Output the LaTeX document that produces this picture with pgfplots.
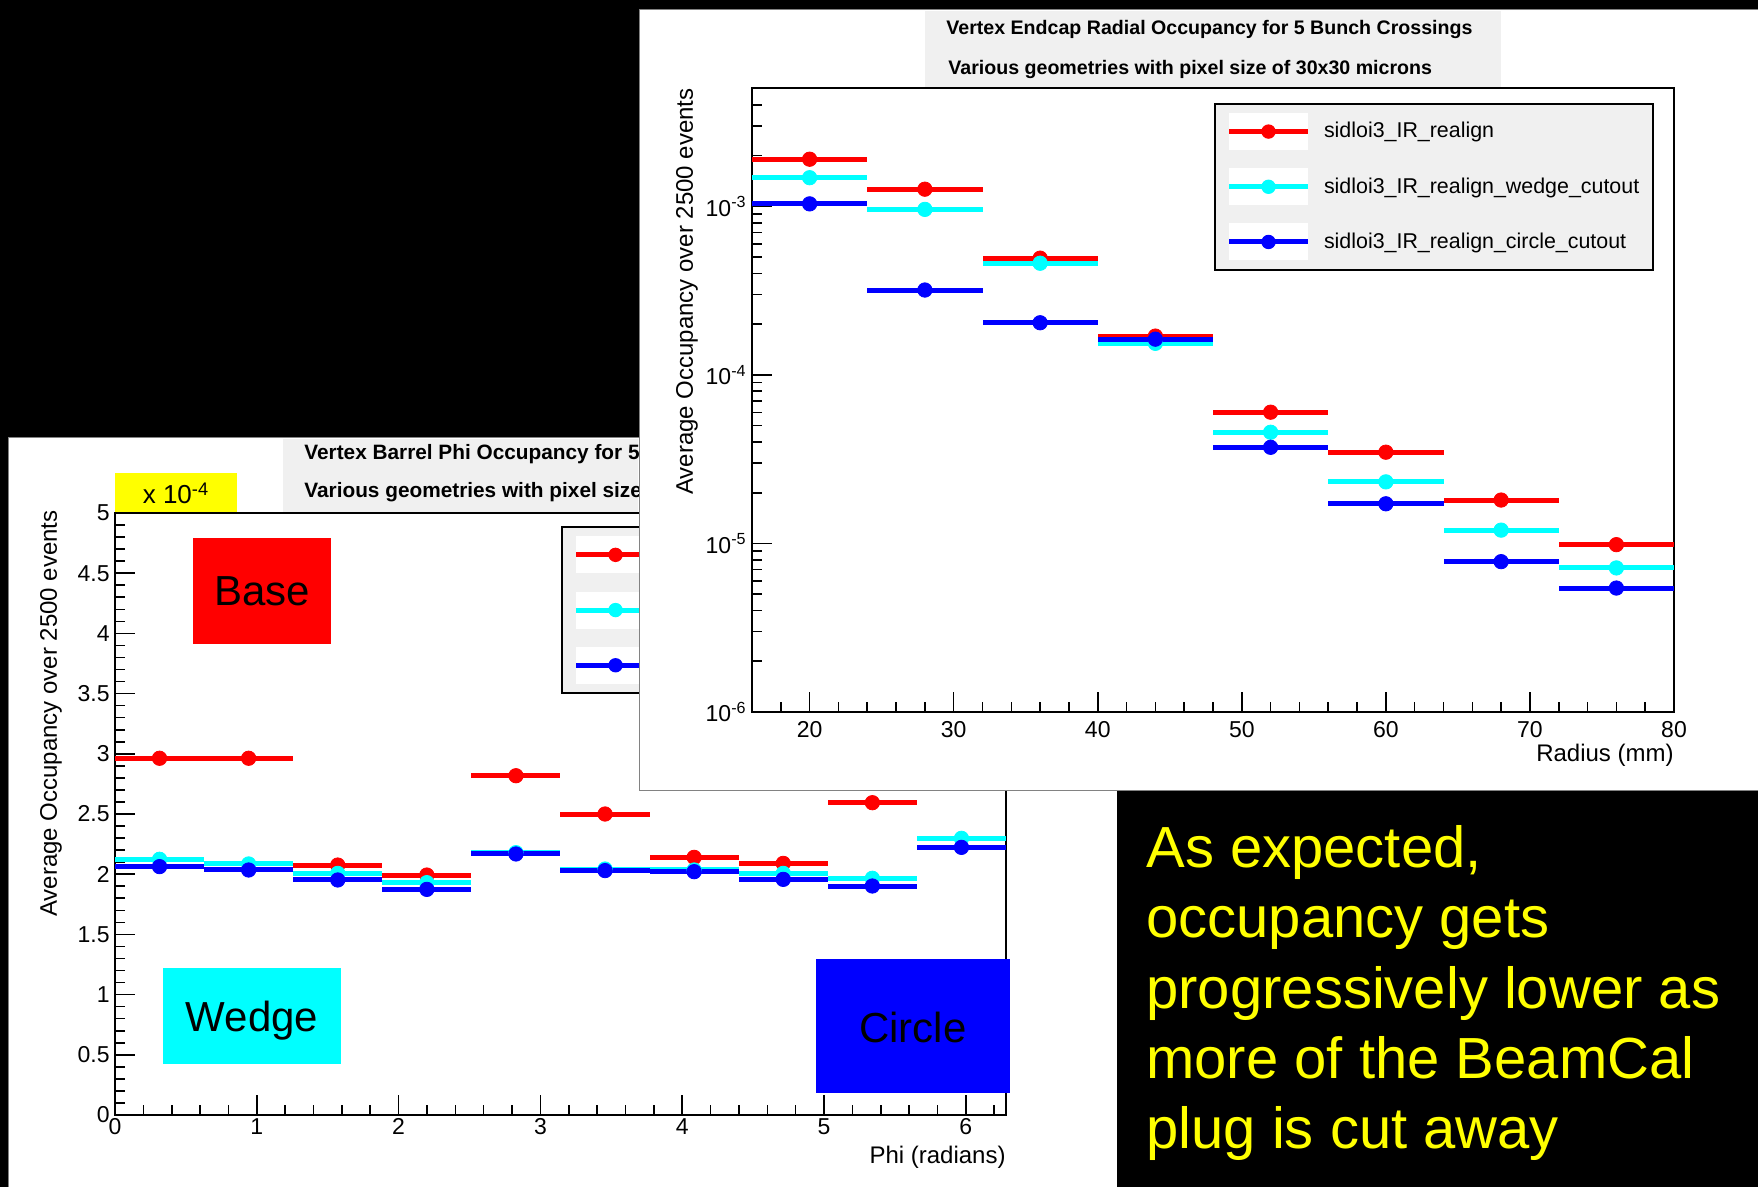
\documentclass[border=0pt]{standalone}
\usepackage{pgfplots}
\pgfplotsset{compat=1.18}
\usepackage{fontspec}
\setmainfont{Liberation Sans}
\definecolor{rootgray}{RGB}{240,240,240}
\definecolor{framegray}{RGB}{130,130,130}
\definecolor{rred}{RGB}{255,0,0}
\definecolor{rcyan}{RGB}{0,255,255}
\definecolor{rblue}{RGB}{0,0,255}
\definecolor{ryellow}{RGB}{255,255,0}
\newcommand\titlefont{\fontsize{9.8}{11}\selectfont\bfseries}
\newcommand\btitlefont{\fontsize{10.4}{11}\selectfont\bfseries}
\newcommand\labfont{\fontsize{12}{13}\selectfont}
\pgfplotsset{
  rootaxis/.style={
    scale only axis,
    anchor=south west,
    axis line style={line width=0.8pt, black},
    tick align=inside,
    xtick pos=bottom, ytick pos=left,
    major tick length=10pt, minor tick length=5pt,
    tick style={line width=0.8pt, black},
    /pgf/number format/assume math mode=true,
    tick label style={font=\fontsize{11.5}{12}\selectfont},
    xlabel style={font=\labfont, inner sep=0pt, anchor=east},
    ylabel style={font=\labfont, inner sep=0pt, anchor=east, rotate=0},
  },
  rootlegend/.style={
    legend style={draw=black, line width=1pt, fill=rootgray, inner sep=0pt,
      row sep=0pt, column sep=0pt, nodes={inner sep=0pt, draw=none},
      font=\fontsize{10.7}{12}\selectfont},
    legend cell align=left,
    legend image code/.code={%
      \path[draw=none, fill=none] (-7pt,-13.8pt) rectangle (47.5pt,13.8pt);
      \fill[white, draw=none] (0pt,-9.25pt) rectangle (39.5pt,9.25pt);
      \draw[##1, line width=2.5pt] (0pt,0pt) -- (39.5pt,0pt);
      \fill[##1, draw=none] (19.75pt,0pt) circle (3.6pt);
    },
  },
  rootdata/.style 2 args={forget plot, only marks, mark=*, mark size=3.6pt, color=#1,
    error bars/.cd, x dir=both, x fixed=#2, error mark=none,
    error bar style={line width=2.5pt, color=#1}},
}
\begin{document}
\begin{tikzpicture}
\clip (0pt,0pt) rectangle (879pt,-593.5pt);
\fill[black] (0pt,0pt) rectangle (879pt,-593.5pt);
% ---------------- barrel panel ----------------
\begin{scope}[x=0.5pt,y=-0.5pt]
  \filldraw[fill=white, draw=framegray, line width=0.5pt] (8,438) rectangle (1780,1200);
  \begin{scope}
    \clip (0,0) rectangle (638,1200);
    \fill[rootgray] (283,438.6) rectangle (859,512);
    \node[anchor=base west, inner sep=0pt, font=\btitlefont] at (304,460) {Vertex Barrel Phi Occupancy for 5};
    \node[anchor=base west, inner sep=0pt, font=\btitlefont] at (304,498) {Various geometries with pixel size};
  \end{scope}
\end{scope}
\begin{axis}[rootaxis, rootlegend,
  at={(57.5pt,-557.5pt)}, width=445.5pt, height=301pt,
  xmin=0, xmax=6.283185, ymin=0, ymax=5,
  xtick={0,1,2,3,4,5,6},
  minor xtick={0.2,0.4,0.6,0.8,1.2,1.4,1.6,1.8,2.2,2.4,2.6,2.8,3.2,3.4,3.6,3.8,4.2,4.4,4.6,4.8,5.2,5.4,5.6,5.8,6.2},
  ytick={0,0.5,1,1.5,2,2.5,3,3.5,4,4.5,5},
  minor y tick num=4,
  xticklabel style={inner sep=0pt, yshift=-1.5pt},
  yticklabel style={inner sep=0pt, xshift=-2.5pt},
  xlabel={Phi (radians)},
  xlabel style={at={(rel axis cs:1,-0.0698)}},
  ylabel={Average Occupancy over 2500 events},
  ylabel style={at={(rel axis cs:-0.0718,1.005)}, rotate=0},
  legend style={at={(axis description cs:0.5006,0.978)}, anchor=north west},
]
\addplot[rootdata={rred}{0.3141593}] coordinates {
  (0.31416,2.963) (0.94248,2.963) (1.57080,2.076) (2.19911,1.993) (2.82743,2.818)
  (3.45575,2.500) (4.08407,2.140) (4.71239,2.090) (5.34071,2.594)};
\addplot[rootdata={rcyan}{0.3141593}] coordinates {
  (0.31416,2.124) (0.94248,2.085) (1.57080,2.007) (2.19911,1.930) (2.82743,2.179)
  (3.45575,2.043) (4.08407,2.035) (4.71239,2.007) (5.34071,1.966) (5.96903,2.298)};
\addplot[rootdata={rblue}{0.3141593}] coordinates {
  (0.31416,2.063) (0.94248,2.035) (1.57080,1.952) (2.19911,1.874) (2.82743,2.168)
  (3.45575,2.030) (4.08407,2.021) (4.71239,1.957) (5.34071,1.902) (5.96903,2.223)};
\addlegendimage{rred}\addlegendentry{\makebox[164.5pt][l]{}}
\addlegendimage{rcyan}\addlegendentry{\makebox[164.5pt][l]{}}
\addlegendimage{rblue}\addlegendentry{\makebox[164.5pt][l]{}}
\end{axis}
\begin{scope}[x=0.5pt,y=-0.5pt]
  \fill[ryellow] (115,473) rectangle (237,512);
  \node[anchor=base, inner sep=0pt, font=\fontsize{13}{14}\selectfont] at (176,504) {x 10\textsuperscript{-4}};
  \fill[rred] (193,538) rectangle (331,644);
  \node[anchor=base, inner sep=0pt, font=\fontsize{21}{22}\selectfont] at (262,606) {Base};
  \fill[rcyan] (163,968) rectangle (341,1064);
  \node[anchor=base, inner sep=0pt, font=\fontsize{21}{22}\selectfont] at (252,1031.5) {Wedge};
  \fill[rblue] (816,959) rectangle (1010,1093);
  \node[anchor=base, inner sep=0pt, font=\fontsize{21}{22}\selectfont] at (913,1042) {Circle};
  % ---------------- endcap panel ----------------
  \filldraw[fill=white, draw=framegray, line width=0.5pt] (639,10) rectangle (1780,790);
  \fill[rootgray] (925,10.6) rectangle (1501,87);
  \node[anchor=base west, inner sep=0pt, font=\titlefont] at (946,35) {Vertex Endcap Radial Occupancy for 5 Bunch Crossings};
  \node[anchor=base west, inner sep=0pt, font=\titlefont] at (948,75) {Various geometries with pixel size of 30x30 microns};
\end{scope}
\begin{axis}[rootaxis, rootlegend,
  at={(376pt,-356pt)}, width=461pt, height=312pt,
  ymode=log,
  xmin=16, xmax=80, ymin=1e-6, ymax=5.04e-3,
  xtick={20,30,40,50,60,70,80},
  minor xtick={18,22,24,26,28,32,34,36,38,42,44,46,48,52,54,56,58,62,64,66,68,72,74,76,78},
  ytick={1e-6,1e-5,1e-4,1e-3},
  yticklabels={10\textsuperscript{-6},10\textsuperscript{-5},10\textsuperscript{-4},10\textsuperscript{-3}},
  minor ytick={2e-6,3e-6,4e-6,5e-6,6e-6,7e-6,8e-6,9e-6,2e-5,3e-5,4e-5,5e-5,6e-5,7e-5,8e-5,9e-5,2e-4,3e-4,4e-4,5e-4,6e-4,7e-4,8e-4,9e-4,2e-3,3e-3,4e-3,5e-3},
  xticklabel style={inner sep=0pt, yshift=-4.5pt},
  yticklabel style={inner sep=0pt, xshift=-2.5pt},
  xlabel={Radius (mm)},
  xlabel style={at={(rel axis cs:1,-0.0689)}},
  ylabel={Average Occupancy over 2500 events},
  ylabel style={at={(rel axis cs:-0.0705,1.0)}, rotate=0},
  legend style={at={(axis description cs:0.5011,0.976)}, anchor=north west},
]
\addplot[rootdata={rred}{4}] coordinates {
  (20,1.905e-3) (28,1.265e-3) (36,4.93e-4) (44,1.70e-4) (52,6.01e-5) (60,3.48e-5) (68,1.81e-5) (76,9.84e-6)};
\addplot[rootdata={rcyan}{4}] coordinates {
  (20,1.48e-3) (28,9.6e-4) (36,4.6e-4) (44,1.54e-4) (52,4.57e-5) (60,2.32e-5) (68,1.20e-5) (76,7.16e-6)};
\addplot[rootdata={rblue}{4}] coordinates {
  (20,1.035e-3) (28,3.19e-4) (36,2.04e-4) (44,1.63e-4) (52,3.72e-5) (60,1.72e-5) (68,7.80e-6) (76,5.44e-6)};
\addlegendimage{rred}\addlegendentry{\makebox[164.5pt][l]{sidloi3\_IR\_realign}}
\addlegendimage{rcyan}\addlegendentry{\makebox[164.5pt][l]{sidloi3\_IR\_realign\_wedge\_cutout}}
\addlegendimage{rblue}\addlegendentry{\makebox[164.5pt][l]{sidloi3\_IR\_realign\_circle\_cutout}}
\end{axis}
% ---------------- text box ----------------
\begin{scope}[x=0.5pt,y=-0.5pt]
  \fill[black] (1117,790.5) rectangle (1780,1200);
  \begin{scope}[every node/.style={anchor=base west, inner sep=0pt, text=ryellow, font=\fontsize{29}{30}\selectfont}]
    \node at (1146,867) {As expected,};
    \node at (1146,937) {occupancy gets};
    \node at (1146,1008) {progressively lower as};
    \node at (1146,1078) {more of the BeamCal};
    \node at (1146,1148) {plug is cut away};
  \end{scope}
\end{scope}
\end{tikzpicture}
\end{document}
